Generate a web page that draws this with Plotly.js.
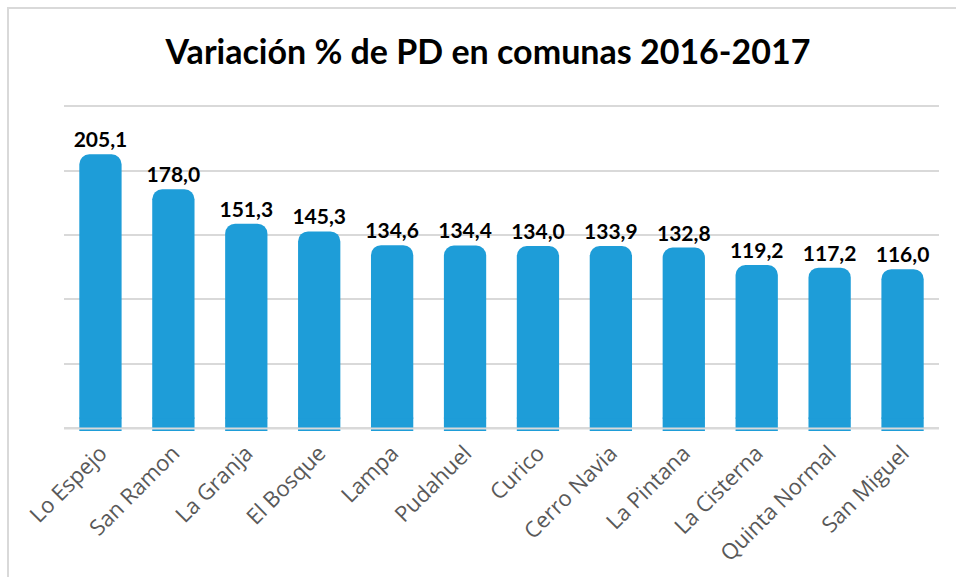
<!DOCTYPE html>
<html>
<head>
<meta charset="utf-8">
<script src="https://cdn.plot.ly/plotly-3.0.1.min.js"></script>
<style>
  html, body { margin: 0; padding: 0; background: #fff; }
  #chart { width: 956px; height: 577px; }
  #frame { position: absolute; left: 7px; top: 7px; width: 960px; height: 580px;
           border-left: 2px solid #D9D9D9; border-top: 2px solid #D9D9D9; pointer-events: none; }
</style>
</head>
<body>
<div id="chart"></div>
<div id="frame"></div>
<script>
const comunas = ["Lo Espejo", "San Ramon", "La Granja", "El Bosque", "Lampa", "Pudahuel",
                 "Curico", "Cerro Navia", "La Pintana", "La Cisterna", "Quinta Normal", "San Miguel"];
const variacion = [205.1, 178.0, 151.3, 145.3, 134.6, 134.4, 134.0, 133.9, 132.8, 119.2, 117.2, 116.0];
const titulo = "Variación % de PD en comunas 2016-2017";
const gridVals = [-7.5, 42.5, 92.5, 142.5, 192.5, 242.5];

const barColor = "#1E9DD8";
const stubDepth = 9.5;

const main = {
  type: "bar",
  x: comunas,
  y: variacion,
  marker: { color: barColor, line: { width: 0 }, cornerradius: 10 },
  texttemplate: "%{y:.1f}",
  textposition: "outside",
  constraintext: "none",
  cliponaxis: false,
  textfont: { family: "Lato, 'Open Sans', sans-serif", size: 21, color: "#000000", weight: "bold" },
  hoverinfo: "x+y"
};
const stub = {
  type: "bar",
  x: comunas,
  y: comunas.map(() => stubDepth + 1),
  base: -stubDepth,
  marker: { color: barColor, line: { width: 0 } },
  hoverinfo: "skip",
  showlegend: false
};

const layout = {
  width: 956, height: 577,
  margin: { l: 64, r: 17, t: 100, b: 146 },
  paper_bgcolor: "#ffffff", plot_bgcolor: "#ffffff",
  separators: ",.",
  barmode: "overlay",
  bargap: 0.42,
  showlegend: false,
  title: {
    text: "<b>" + titulo + "</b>",
    font: { family: "Lato, 'Open Sans', sans-serif", size: 34, color: "#000000" },
    x: 488 / 956, xref: "container", xanchor: "center",
    y: 1 - 52 / 577, yref: "container", yanchor: "middle"
  },
  xaxis: {
    type: "category",
    tickangle: -45,
    tickfont: { family: "'Open Sans', 'DejaVu Sans', sans-serif", size: 22, color: "#595959" },
    ticklabelstandoff: 4,
    showgrid: false, zeroline: false, showline: false, ticks: "",
    fixedrange: true
  },
  yaxis: {
    range: [-9.5, 247.2],
    tickmode: "array",
    tickvals: gridVals,
    showticklabels: false,
    showgrid: true, gridcolor: "#D9D9D9", gridwidth: 2,
    zeroline: false, showline: false, ticks: "",
    fixedrange: true
  },
  shapes: [{
    type: "line", xref: "paper", yref: "y",
    x0: 0, x1: 1, y0: gridVals[0], y1: gridVals[0],
    line: { color: "#D9D9D9", width: 2 }, layer: "above"
  }]
};

Plotly.newPlot("chart", [stub, main], layout, { displayModeBar: false, staticPlot: true });
</script>
</body>
</html>
